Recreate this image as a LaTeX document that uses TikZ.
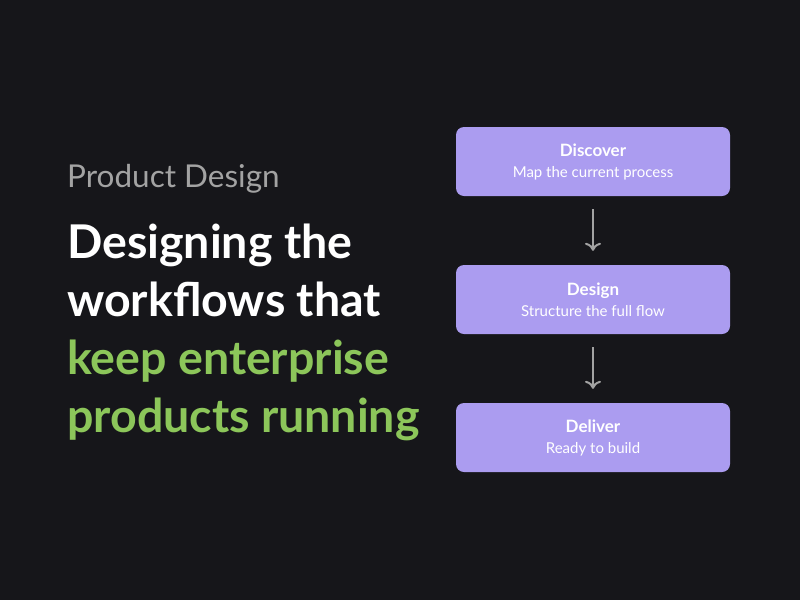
\documentclass[tikz,border=0pt]{standalone}
\usepackage{fontspec}
\setmainfont{Lato}
\usetikzlibrary{arrows.meta}
\definecolor{bg}{HTML}{16161A}
\definecolor{box}{HTML}{AB9CF0}
\definecolor{grn}{HTML}{8CC65A}
\definecolor{gry}{HTML}{A3A3A3}
\begin{document}
\begin{tikzpicture}[x=1pt,y=-1pt,
  stepbox/.style={fill=box,rounded corners=8pt,minimum width=274pt,minimum height=69pt,inner sep=0pt,text=white,align=center,font=\fontsize{17}{22}\selectfont},
  arr/.style={draw=gry,line width=2pt,-{To[length=8pt,width=16pt,line width=2pt]}},
  head/.style={anchor=base west,inner sep=0pt,font=\fontsize{46.5}{50}\selectfont\bfseries}]
\fill[bg] (0,0) rectangle (800,600);
\useasboundingbox (0,0) rectangle (800,600);
\node[head,font=\fontsize{31.5}{34}\selectfont,text=gry] (t0) at (67,187) {Product Design};
\node[head,text=white] (t1) at (67,258) {Designing the};
\node[head,text=white] (t2) at (67,316) {workflows that};
\node[head,text=grn] (t3) at (67,374) {keep enterprise};
\node[head,text=grn] (t4) at (67,432) {products running};
\node[stepbox] (a) at (593,161.5) {\textbf{Discover}\\[-1pt]{\fontsize{15}{18}\selectfont Map the current process}};
\node[stepbox] (b) at (593,299.5) {\textbf{Design}\\[-1pt]{\fontsize{15}{18}\selectfont Structure the full flow}};
\node[stepbox] (c) at (593,437.5) {\textbf{Deliver}\\[-1pt]{\fontsize{15}{18}\selectfont Ready to build}};
\draw[arr] ([yshift=-13pt]a.south) -- ([yshift=14pt]b.north);
\draw[arr] ([yshift=-13pt]b.south) -- ([yshift=14pt]c.north);
\end{tikzpicture}
\end{document}
